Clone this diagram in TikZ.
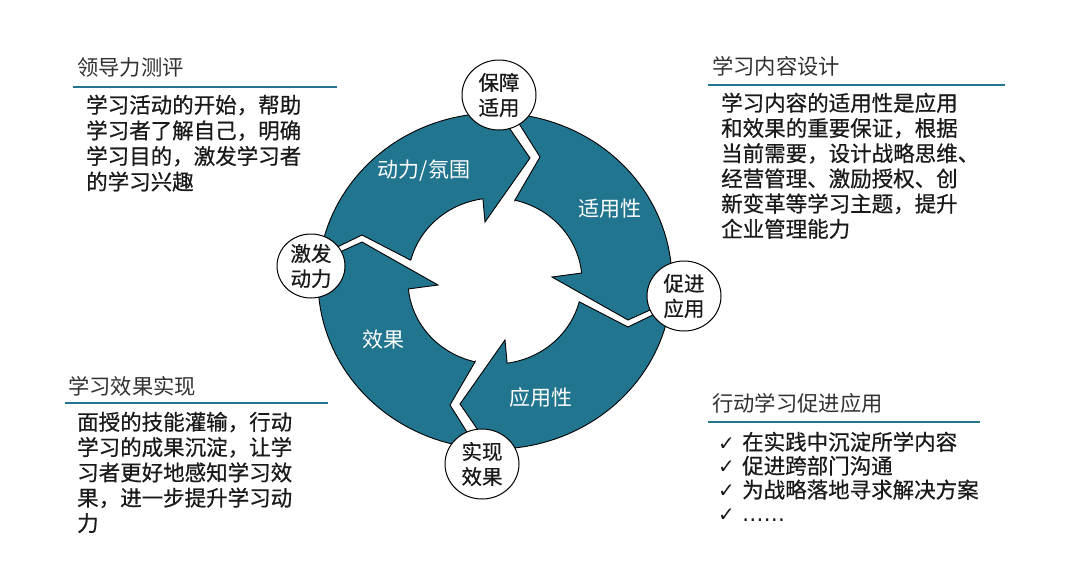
\documentclass[tikz,border=0pt]{standalone}
\usepackage{fontspec}
\setmainfont{Noto Sans CJK SC}
\newfontfamily\bodyfont{Noto Sans CJK SC}[FakeBold=0.6]
\newfontfamily\dejavu{DejaVu Sans}
\usetikzlibrary{shapes.geometric}
\definecolor{teal1}{HTML}{21758F}
\definecolor{ink}{HTML}{1A1A1A}
\begin{document}
\begin{tikzpicture}[x=1pt,y=-1pt,
  seg/.style={fill=teal1, draw=black, line width=0.9pt, line join=miter},
  bubble/.style={ellipse, draw=black, line width=1pt, fill=white, minimum width=74pt, minimum height=70pt, inner sep=0pt, align=center, font=\bodyfont\fontsize{20.5pt}{25pt}\selectfont, text=ink},
  ringtxt/.style={text=white, font=\fontsize{21pt}{25pt}\selectfont, inner sep=0pt},
  titletxt/.style={anchor=base west, inner sep=0pt, text=ink!90, font=\fontsize{21.3pt}{25pt}\selectfont},
  body/.style={anchor=base west, inner sep=0pt, text=ink, font=\bodyfont\fontsize{21.5pt}{25pt}\selectfont},
  hrule/.style={draw=teal1, line width=2.5pt}
]
\useasboundingbox (0,0) rectangle (1080,566);
\fill[white] (0,0) rectangle (1080,566);
% ---- gap geometry ----
% top
\coordinate (THK) at (530,158);
\coordinate (TTP) at (485,222);
\coordinate (TBA) at ({495+87*cos(-98)},{281+83*sin(-98)});
\coordinate (TTO) at ({495+177*cos(-84.2)},{281+168*sin(-84.2)});
\coordinate (TTK) at (540,157);
\coordinate (TTI) at ({495+87*cos(-76.8)},{281+83*sin(-76.8)});
% right
\coordinate (RHK) at (628,320);
\coordinate (RTP) at (552,277);
\coordinate (RBA) at ({495+87*cos(-5.5)},{281+83*sin(-5.5)});
\coordinate (RTO) at ({495+177*cos(8.8)},{281+168*sin(8.8)});
\coordinate (RTK) at (628,327);
\coordinate (RTI) at ({495+87*cos(14.5)},{281+83*sin(14.5)});
% bottom
\coordinate (BHK) at (460,404);
\coordinate (BTP) at (505,340);
\coordinate (BBA) at ({495+87*cos(82)},{281+83*sin(82)});
\coordinate (BTO) at ({495+177*cos(95.8)},{281+168*sin(95.8)});
\coordinate (BTK) at (450,405);
\coordinate (BTI) at ({495+87*cos(103.2)},{281+83*sin(103.2)});
% left
\coordinate (LHK) at (362,242);
\coordinate (LTP) at (438,285);
\coordinate (LBA) at ({495+87*cos(174.5)},{281+83*sin(174.5)});
\coordinate (LTO) at ({495+177*cos(188.8)},{281+168*sin(188.8)});
\coordinate (LTK) at (362,235);
\coordinate (LTI) at ({495+87*cos(194.5)},{281+83*sin(194.5)});
% ---- ring segments ----
% top-right: 适用性
\path[seg] (TTI) -- (TTK) -- (TTO)
  -- plot[domain=-84.2:6.7, samples=40] ({495+177*cos(\x)},{281+168*sin(\x)})
  -- (RHK) -- (RTP) -- (RBA)
  -- plot[domain=-5.5:-76.8, samples=30] ({495+87*cos(\x)},{281+83*sin(\x)}) -- cycle;
% bottom-right: 应用性
\path[seg] (RTI) -- (RTK) -- (RTO)
  -- plot[domain=8.8:91.3, samples=40] ({495+177*cos(\x)},{281+168*sin(\x)})
  -- (BHK) -- (BTP) -- (BBA)
  -- plot[domain=82:14.5, samples=30] ({495+87*cos(\x)},{281+83*sin(\x)}) -- cycle;
% bottom-left: 效果
\path[seg] (BTI) -- (BTK) -- (BTO)
  -- plot[domain=95.8:186.7, samples=40] ({495+177*cos(\x)},{281+168*sin(\x)})
  -- (LHK) -- (LTP) -- (LBA)
  -- plot[domain=174.5:103.2, samples=30] ({495+87*cos(\x)},{281+83*sin(\x)}) -- cycle;
% top-left: 动力/氛围
\path[seg] (LTI) -- (LTK) -- (LTO)
  -- plot[domain=188.8:271.3, samples=40] ({495+177*cos(\x)},{281+168*sin(\x)})
  -- (THK) -- (TTP) -- (TBA)
  -- plot[domain=262:194.5, samples=30] ({495+87*cos(\x)},{281+83*sin(\x)}) -- cycle;
% ---- ring labels ----
\node[ringtxt] (r1) at (424,171) {动力/氛围};
\node[ringtxt] (r2) at (610,209) {适用性};
\node[ringtxt] (r3) at (383,340) {效果};
\node[ringtxt] (r4) at (541,398) {应用性};
% ---- bubbles ----
\node[bubble] (cT) at (499,95) {保障\\适用};
\node[bubble] (cR) at (684,296) {促进\\应用};
\node[bubble] (cB) at (482,464) {实现\\效果};
\node[bubble, minimum width=68pt, minimum height=64pt] (cL) at (311,266) {激发\\动力};
% ---- block 1 ----
\node[titletxt] (h1) at (77,75) {领导力测评};
\draw[hrule] (73,87) -- (337,87);
\foreach \t [count=\i] in {学习活动的开始，帮助, 学习者了解自己，明确, 学习目的，激发学习者, 的学习兴趣}
  \node[body] (a\i) at (86,{113+25.6*(\i-1)}) {\t};
% ---- block 2 ----
\node[titletxt] (h2) at (712,74) {学习内容设计};
\draw[hrule] (708,85) -- (1005,85);
\foreach \t [count=\i] in {学习内容的适用性是应用, 和效果的重要保证，根据, 当前需要，设计战略思维、, 经营管理、激励授权、创, 新变革等学习主题，提升, 企业管理能力}
  \node[body] (b\i) at (721,{111+25.2*(\i-1)}) {\t};
% ---- block 3 ----
\node[titletxt] (h3) at (68,394) {学习效果实现};
\draw[hrule] (65,403) -- (328,403);
\foreach \t [count=\i] in {面授的技能灌输，行动, 学习的成果沉淀，让学, 习者更好地感知学习效, 果，进一步提升学习动, 力}
  \node[body] (c\i) at (77,{430+25.3*(\i-1)}) {\t};
% ---- block 4 ----
\node[titletxt] (h4) at (712,411) {行动学习促进应用};
\draw[hrule] (708,422) -- (980,422);
\foreach \t [count=\i] in {在实践中沉淀所学内容, 促进跨部门沟通, 为战略落地寻求解决方案}
  {\node[body, font=\dejavu\fontsize{20pt}{24pt}\selectfont] (k\i) at (718,{450+23.9*(\i-1)}) {✓};
   \node[body] (d\i) at (742,{450+23.9*(\i-1)}) {\t};}
\node[body, font=\dejavu\fontsize{20pt}{24pt}\selectfont] (k4) at (718,{450+23.9*3}) {✓};
\node[body, font=\dejavu\fontsize{21.5pt}{25pt}\selectfont] (d4) at (742,{450+23.9*3}) {……};
\end{tikzpicture}
\end{document}
